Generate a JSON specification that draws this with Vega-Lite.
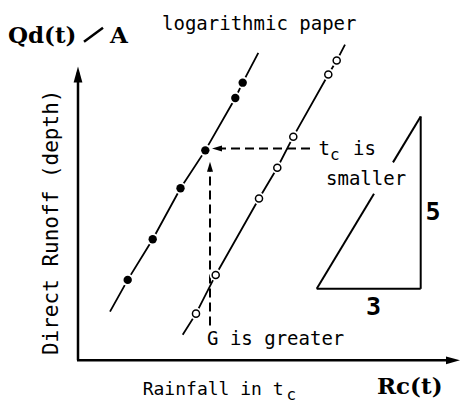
{
  "$schema": "https://vega.github.io/schema/vega-lite/v6.json",
  "width": 462,
  "height": 403,
  "autosize": {"type": "fit", "contains": "padding"},
  "padding": 0,
  "background": "white",
  "config": {"view": {"stroke": null}},
  "datasets": {
    "segs": [
      {"role": "axis", "x": 0, "y": 0, "x2": 0, "y2": 290},
      {"role": "axis", "x": -1, "y": 0, "x2": 376, "y2": 0},
      {"role": "dash", "x": 139, "y": 213.5, "x2": 237, "y2": 213.5},
      {"role": "dash", "x": 132, "y": 35, "x2": 132, "y2": 195},
      {"role": "tri", "x": 238.7, "y": 72, "x2": 342.7, "y2": 72},
      {"role": "tri", "x": 342.7, "y": 72, "x2": 342.7, "y2": 245.7},
      {"role": "tri", "x": 238.7, "y": 72, "x2": 296, "y2": 167.7},
      {"role": "tri", "x": 315, "y": 199.4, "x2": 342.7, "y2": 245.7},
      {"role": "slash", "x": 6, "y": 321, "x2": 25, "y2": 335}
    ],
    "series": [
      {"series": "left", "seq": 0, "marker": "none", "x": 32, "y": 49},
      {"series": "left", "seq": 1, "marker": "filled", "x": 49.7, "y": 81},
      {"series": "left", "seq": 2, "marker": "filled", "x": 74.7, "y": 122},
      {"series": "left", "seq": 3, "marker": "filled", "x": 102.5, "y": 173.3},
      {"series": "left", "seq": 4, "marker": "filled", "x": 127.3, "y": 211.5},
      {"series": "left", "seq": 5, "marker": "filled", "x": 157.3, "y": 264.3},
      {"series": "left", "seq": 6, "marker": "filled", "x": 164.7, "y": 279.7},
      {"series": "left", "seq": 7, "marker": "none", "x": 180.3, "y": 309.7},
      {"series": "right", "seq": 0, "marker": "none", "x": 104.7, "y": 25.7},
      {"series": "right", "seq": 1, "marker": "open", "x": 118, "y": 47},
      {"series": "right", "seq": 2, "marker": "open", "x": 137.7, "y": 86},
      {"series": "right", "seq": 3, "marker": "open", "x": 181, "y": 163},
      {"series": "right", "seq": 4, "marker": "open", "x": 199.3, "y": 194},
      {"series": "right", "seq": 5, "marker": "open", "x": 215.3, "y": 225.3},
      {"series": "right", "seq": 6, "marker": "open", "x": 250.3, "y": 288},
      {"series": "right", "seq": 7, "marker": "open", "x": 258.7, "y": 302},
      {"series": "right", "seq": 8, "marker": "none", "x": 267, "y": 318}
    ],
    "heads": [
      {"role": "up", "x": 0, "y": 288},
      {"role": "right", "x": 375, "y": 0},
      {"role": "left", "x": 139, "y": 213.5},
      {"role": "upsmall", "x": 132, "y": 195}
    ],
    "labels": [
      {"role": "serif", "x": -70, "y": 320, "label": "Qd(t)"},
      {"role": "serif", "x": 32, "y": 320, "label": "A"},
      {"role": "serif", "x": 299, "y": -34, "label": "Rc(t)"},
      {"role": "mono", "x": 84, "y": 333, "label": "logarithmic paper"},
      {"role": "mono", "x": 240.5, "y": 206.5, "label": "t"},
      {"role": "mono", "x": 275, "y": 206.5, "label": "is"},
      {"role": "mono", "x": 248, "y": 177, "label": "smaller"},
      {"role": "mono", "x": 129, "y": 15, "label": "G is greater"},
      {"role": "monoS", "x": 64.7, "y": -35.3, "label": "Rainfall in t"},
      {"role": "sub", "x": 252, "y": 201.5, "label": "c"},
      {"role": "sub", "x": 208.5, "y": -39.7, "label": "c"},
      {"role": "digit", "x": 355, "y": 141, "label": "5"},
      {"role": "digit", "x": 295.5, "y": 46, "label": "3"},
      {"role": "vert", "x": -20, "y": 139, "label": "Direct Runoff (depth)"}
    ]
  },
  "encoding": {
    "x": {"field": "x", "type": "quantitative", "scale": {"domain": [-78, 384], "nice": false, "zero": false}, "axis": null},
    "y": {"field": "y", "type": "quantitative", "scale": {"domain": [-40, 363], "nice": false, "zero": false}, "axis": null}
  },
  "layer": [
    {
      "data": {"name": "segs"},
      "transform": [{"filter": "datum.role == 'axis'"}],
      "mark": {"type": "rule", "color": "black", "strokeWidth": 2.5},
      "encoding": {"x2": {"field": "x2"}, "y2": {"field": "y2"}}
    },
    {
      "data": {"name": "segs"},
      "transform": [{"filter": "datum.role == 'dash'"}],
      "mark": {"type": "rule", "color": "black", "strokeWidth": 2, "strokeDash": [9, 5]},
      "encoding": {"x2": {"field": "x2"}, "y2": {"field": "y2"}}
    },
    {
      "data": {"name": "segs"},
      "transform": [{"filter": "datum.role == 'tri'"}],
      "mark": {"type": "rule", "color": "black", "strokeWidth": 2},
      "encoding": {"x2": {"field": "x2"}, "y2": {"field": "y2"}}
    },
    {
      "data": {"name": "segs"},
      "transform": [{"filter": "datum.role == 'slash'"}],
      "mark": {"type": "rule", "color": "black", "strokeWidth": 2.5},
      "encoding": {"x2": {"field": "x2"}, "y2": {"field": "y2"}}
    },
    {
      "data": {"name": "series"},
      "mark": {"type": "line", "color": "black", "strokeWidth": 1.8},
      "encoding": {"detail": {"field": "series"}, "order": {"field": "seq", "type": "quantitative"}}
    },
    {
      "data": {"name": "series"},
      "transform": [{"filter": "datum.marker != 'none'"}],
      "mark": {"type": "point", "filled": true, "color": "white", "opacity": 1, "size": 150}
    },
    {
      "data": {"name": "series"},
      "transform": [{"filter": "datum.marker == 'filled'"}],
      "mark": {"type": "point", "filled": true, "color": "black", "opacity": 1, "size": 70}
    },
    {
      "data": {"name": "series"},
      "transform": [{"filter": "datum.marker == 'open'"}],
      "mark": {"type": "point", "filled": true, "fill": "white", "stroke": "black", "strokeWidth": 1.5, "opacity": 1, "size": 50}
    },
    {
      "data": {"name": "heads"},
      "transform": [{"filter": "datum.role == 'up'"}],
      "mark": {"type": "point", "filled": true, "color": "black", "opacity": 1, "size": 256, "shape": "M0,-1L0.55,1L-0.55,1Z"}
    },
    {
      "data": {"name": "heads"},
      "transform": [{"filter": "datum.role == 'right'"}],
      "mark": {"type": "point", "filled": true, "color": "black", "opacity": 1, "size": 196, "shape": "M1,0L-1,-0.55L-1,0.55Z"}
    },
    {
      "data": {"name": "heads"},
      "transform": [{"filter": "datum.role == 'left'"}],
      "mark": {"type": "point", "filled": true, "color": "black", "opacity": 1, "size": 100, "shape": "M-1,0L1,-0.6L1,0.6Z"}
    },
    {
      "data": {"name": "heads"},
      "transform": [{"filter": "datum.role == 'upsmall'"}],
      "mark": {"type": "point", "filled": true, "color": "black", "opacity": 1, "size": 100, "shape": "M0,-1L0.6,1L-0.6,1Z"}
    },
    {
      "data": {"name": "labels"},
      "transform": [{"filter": "datum.role == 'serif'"}],
      "mark": {"type": "text", "font": "DejaVu Serif", "fontWeight": "bold", "fontSize": 23, "align": "left", "baseline": "alphabetic", "color": "black"},
      "encoding": {"text": {"field": "label"}}
    },
    {
      "data": {"name": "labels"},
      "transform": [{"filter": "datum.role == 'mono'"}],
      "mark": {"type": "text", "font": "DejaVu Sans Mono", "fontSize": 19, "align": "left", "baseline": "alphabetic", "color": "black"},
      "encoding": {"text": {"field": "label"}}
    },
    {
      "data": {"name": "labels"},
      "transform": [{"filter": "datum.role == 'monoS'"}],
      "mark": {"type": "text", "font": "DejaVu Sans Mono", "fontSize": 18, "align": "left", "baseline": "alphabetic", "color": "black"},
      "encoding": {"text": {"field": "label"}}
    },
    {
      "data": {"name": "labels"},
      "transform": [{"filter": "datum.role == 'sub'"}],
      "mark": {"type": "text", "font": "DejaVu Sans Mono", "fontSize": 16, "align": "left", "baseline": "alphabetic", "color": "black"},
      "encoding": {"text": {"field": "label"}}
    },
    {
      "data": {"name": "labels"},
      "transform": [{"filter": "datum.role == 'digit'"}],
      "mark": {"type": "text", "font": "DejaVu Sans Mono", "fontWeight": "bold", "fontSize": 25, "align": "center", "baseline": "alphabetic", "color": "black"},
      "encoding": {"text": {"field": "label"}}
    },
    {
      "data": {"name": "labels"},
      "transform": [{"filter": "datum.role == 'vert'"}],
      "mark": {"type": "text", "font": "DejaVu Sans Mono", "fontSize": 21, "angle": 270, "align": "center", "baseline": "alphabetic", "color": "black"},
      "encoding": {"text": {"field": "label"}}
    }
  ]
}
